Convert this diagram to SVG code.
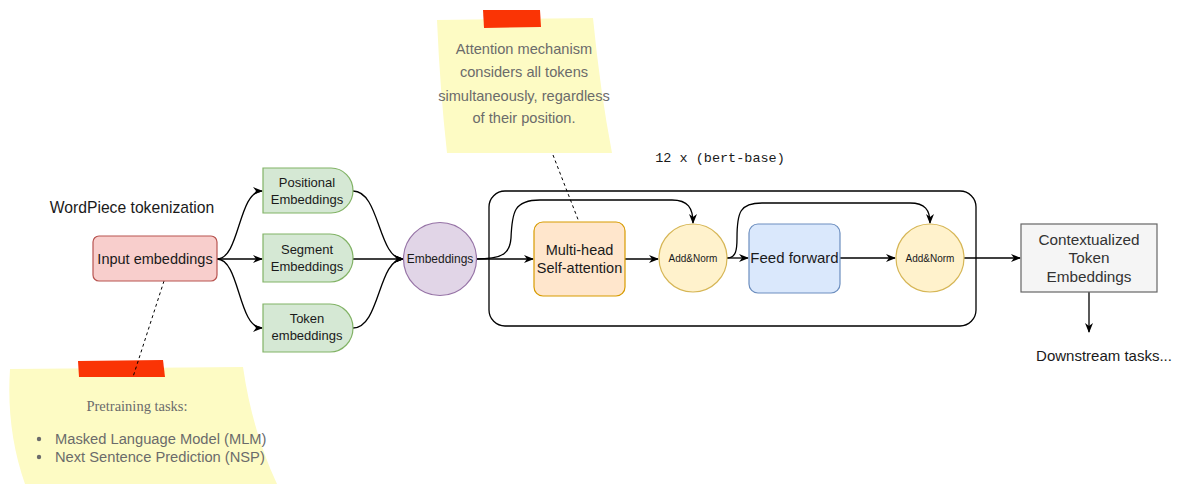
<svg xmlns="http://www.w3.org/2000/svg" width="1185" height="484" viewBox="0 0 1185 484">
  <defs>
    <marker id="arrow" viewBox="0 0 10 8" refX="9" refY="4" markerWidth="10" markerHeight="8" markerUnits="userSpaceOnUse" orient="auto">
      <path d="M0,0 L10,4 L0,8 L3,4 Z" fill="#000"/>
    </marker>
    <style>
      .t { font-family: "Liberation Sans", Arial, sans-serif; fill: #1a1a1a; text-anchor: middle; }
      .note { font-family: "Liberation Sans", Arial, sans-serif; fill: #6b6b6b; font-size: 14.6px; text-anchor: middle; }
      .edge { fill: none; stroke: #000; stroke-width: 1.3; }
      .dash { fill: none; stroke: #000; stroke-width: 1; stroke-dasharray: 3 3; }
      .green { fill: #d5e8d4; stroke: #82b366; stroke-width: 1.2; }
      .add { fill: #fff2cc; stroke: #d6b656; stroke-width: 1.2; }
      .sticky { fill: #fdfbc4; }
      .tape { fill: #fa3405; }
    </style>
  </defs>

  <rect width="1185" height="484" fill="#ffffff"/>

  <!-- sticky note: attention -->
  <g id="note-attention">
    <path class="sticky" d="M437,20 L593,18 Q600,90 612,153 L447,153 Q440,90 437,20 Z"/>
    <path class="tape" d="M483,10 L540,10 L541,27 L484,28 Z"/>
    <text class="note" x="524" y="54">Attention mechanism</text>
    <text class="note" x="524" y="77">considers all tokens</text>
    <text class="note" x="524" y="101">simultaneously, regardless</text>
    <text class="note" x="524" y="123">of their position.</text>
  </g>

  <!-- sticky note: pretraining -->
  <g id="note-pretraining">
    <path class="sticky" d="M10,369 L243,367 Q252,430 277,484 L25,484 Q6,430 10,369 Z"/>
    <path class="tape" d="M78,361 L163,360 L165,377 L79,377 Z"/>
    <text x="137" y="411" style="font-family:'Liberation Serif','Times New Roman',serif;font-size:14.5px;fill:#6b6b6b;text-anchor:middle">Pretraining tasks:</text>
    <circle cx="39" cy="439" r="2.2" fill="#6b6b6b"/>
    <circle cx="39" cy="457" r="2.2" fill="#6b6b6b"/>
    <text x="55" y="444" style="font-family:'Liberation Sans',Arial,sans-serif;font-size:14.7px;fill:#6b6b6b">Masked Language Model (MLM)</text>
    <text x="55" y="462" style="font-family:'Liberation Sans',Arial,sans-serif;font-size:14.7px;fill:#6b6b6b">Next Sentence Prediction (NSP)</text>
  </g>

  <!-- free labels -->
  <text class="t" x="132" y="213" style="font-size:15.7px">WordPiece tokenization</text>
  <text x="720" y="162" style="font-family:'Liberation Mono','Courier New',monospace;font-size:13.5px;fill:#1a1a1a;text-anchor:middle">12 x (bert-base)</text>
  <text class="t" x="1104" y="361" style="font-size:15px">Downstream tasks...</text>

  <!-- encoder block frame -->
  <g id="encoder-block">
    <rect x="489" y="191" width="487" height="135" rx="16" fill="none" stroke="#000" stroke-width="1.3"/>
  </g>

  <!-- connectors -->
  <g id="connectors">
    <path class="edge" d="M217,259 C240,259 238,191 262,191" marker-end="url(#arrow)"/>
    <path class="edge" d="M217,259 L262,259" marker-end="url(#arrow)"/>
    <path class="edge" d="M217,259 C240,259 238,328 262,328" marker-end="url(#arrow)"/>
    <path class="edge" d="M353,191 C380,191 378,259 403,259" marker-end="url(#arrow)"/>
    <path class="edge" d="M353,259 L403,259" marker-end="url(#arrow)"/>
    <path class="edge" d="M353,328 C380,328 378,259 403,259" marker-end="url(#arrow)"/>
    <path class="edge" d="M476,259 L533,259" marker-end="url(#arrow)"/>
    <path class="edge" d="M476,259 C505,259 510,252 511,238 C512,212 514,200 540,200 L672,200 C688,200 693,208 693,223" marker-end="url(#arrow)"/>
    <path class="edge" d="M625,259 L658,259" marker-end="url(#arrow)"/>
    <path class="edge" d="M727,258 L748,258" marker-end="url(#arrow)"/>
    <path class="edge" d="M727,258 C736,258 737,250 737,238 C737,212 740,203 762,203 L910,203 C925,203 930,210 930,223" marker-end="url(#arrow)"/>
    <path class="edge" d="M840,258 L895,258" marker-end="url(#arrow)"/>
    <path class="edge" d="M964,258 L1020,258" marker-end="url(#arrow)"/>
    <path class="edge" d="M1089,292 L1089,332" marker-end="url(#arrow)"/>
    <path class="dash" d="M164,281 L133,377"/>
    <path class="dash" d="M553,155 L579,222"/>
  </g>

  <g id="input-embeddings">
    <rect x="93" y="236" width="124" height="45" rx="6" fill="#f8cecc" stroke="#b85450" stroke-width="1.2"/>
    <text class="t" x="155" y="264" style="font-size:14.5px">Input embeddings</text>
  </g>

  <g id="positional-embeddings">
    <path class="green" d="M263,168 H331 A22,22.5 0 0 1 331,213 H263 Z"/>
    <text class="t" x="307" y="187" style="font-size:13px">Positional</text>
    <text class="t" x="307" y="204" style="font-size:13px">Embeddings</text>
  </g>

  <g id="segment-embeddings">
    <path class="green" d="M263,234 H330 A23,24 0 0 1 330,282 H263 Z"/>
    <text class="t" x="307" y="254" style="font-size:13px">Segment</text>
    <text class="t" x="307" y="271" style="font-size:13px">Embeddings</text>
  </g>

  <g id="token-embeddings">
    <path class="green" d="M263,304 H330 A23,24 0 0 1 330,352 H263 Z"/>
    <text class="t" x="307" y="323" style="font-size:13px">Token</text>
    <text class="t" x="307" y="340" style="font-size:13px">embeddings</text>
  </g>

  <g id="embeddings">
    <circle cx="440" cy="259" r="36.5" fill="#e1d5e7" stroke="#9673a6" stroke-width="1.2"/>
    <text class="t" x="440" y="263" style="font-size:12px">Embeddings</text>
  </g>

  <g id="self-attention">
    <rect x="534" y="222" width="91" height="74" rx="9" fill="#ffe6cc" stroke="#d79b00" stroke-width="1.2"/>
    <text class="t" x="579.5" y="255" style="font-size:14.5px">Multi-head</text>
    <text class="t" x="579.5" y="273" style="font-size:14.5px">Self-attention</text>
  </g>

  <g id="add-norm-1">
    <circle class="add" cx="693" cy="258" r="34"/>
    <text class="t" x="693" y="262" style="font-size:10px">Add&amp;Norm</text>
  </g>

  <g id="feed-forward">
    <rect x="749" y="224" width="91" height="69" rx="9" fill="#dae8fc" stroke="#6c8ebf" stroke-width="1.2"/>
    <text class="t" x="794.5" y="263" style="font-size:15px">Feed forward</text>
  </g>

  <g id="add-norm-2">
    <circle class="add" cx="930" cy="258" r="34"/>
    <text class="t" x="930" y="262" style="font-size:10px">Add&amp;Norm</text>
  </g>

  <g id="contextualized">
    <rect x="1021" y="224" width="136" height="68" fill="#f5f5f5" stroke="#666666" stroke-width="1.2"/>
    <text class="t" x="1089" y="245" style="font-size:15.3px;fill:#333333">Contextualized</text>
    <text class="t" x="1089" y="263" style="font-size:15.3px;fill:#333333">Token</text>
    <text class="t" x="1089" y="282" style="font-size:15.3px;fill:#333333">Embeddings</text>
  </g>
</svg>
